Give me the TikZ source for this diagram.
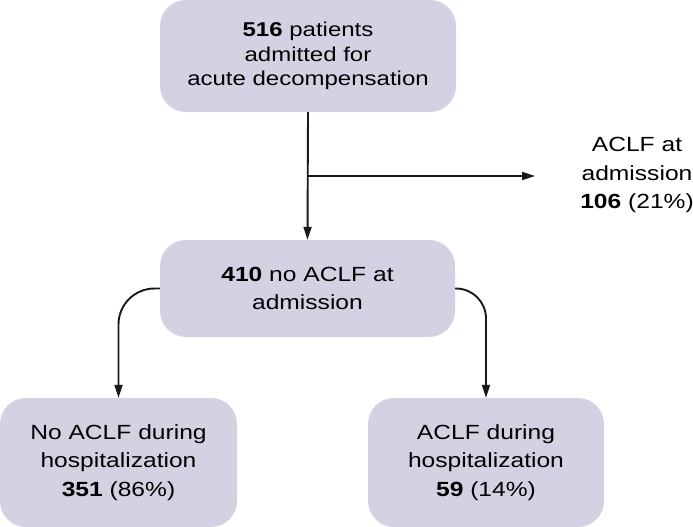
\documentclass[tikz,border=0pt]{standalone}
\usepackage{fontspec}
\setmainfont{Liberation Sans}[FakeStretch=1.2]
\usetikzlibrary{arrows.meta}
\definecolor{boxfill}{RGB}{213,209,227}
\definecolor{linecol}{RGB}{25,25,25}
\tikzset{
  flowbox/.style={draw=none, fill=boxfill, rounded corners=26pt, inner sep=0pt, align=center,
    font=\fontsize{20.5}{28.5}\selectfont},
  arr/.style={draw=linecol, line width=1.9pt, -{Triangle[length=13pt,width=8pt]}},
}
\begin{document}
\begin{tikzpicture}[x=1pt,y=-1pt]
\useasboundingbox (0,0) rectangle (693,527);
\node[flowbox, minimum width=296pt, minimum height=112pt, font=\fontsize{20}{24.5}\selectfont] (top) at (308,56)
  {\textbf{516} patients\\admitted for\\acute decompensation};
\node[flowbox, minimum width=295pt, minimum height=97pt] (mid) at (307.5,288.5)
  {\textbf{410} no ACLF at\\admission};
\node[flowbox, minimum width=237pt, minimum height=129pt] (bl) at (118.5,462.5)
  {No ACLF during\\hospitalization\\\textbf{351} (86\%)};
\node[flowbox, minimum width=236pt, minimum height=129pt] (br) at (486,462.5)
  {ACLF during\\hospitalization\\\textbf{59} (14\%)};
\node[inner sep=0pt, align=center, font=\fontsize{20.5}{28.5}\selectfont] (adm) at (637,175)
  {ACLF at\\admission\\\textbf{106} (21\%)};
\coordinate (split) at (top.south |- 0,176);
\coordinate (rend) at (535,176);
\draw[arr] (top.south) -- (mid.north);
\draw[arr] (split) -- (rend);
\draw[arr, rounded corners=36pt] (mid.west) -- (bl.north |- mid.west) -- (bl.north);
\draw[arr, rounded corners=30pt] (mid.east) -- (br.north |- mid.east) -- (br.north);
\end{tikzpicture}
\end{document}
